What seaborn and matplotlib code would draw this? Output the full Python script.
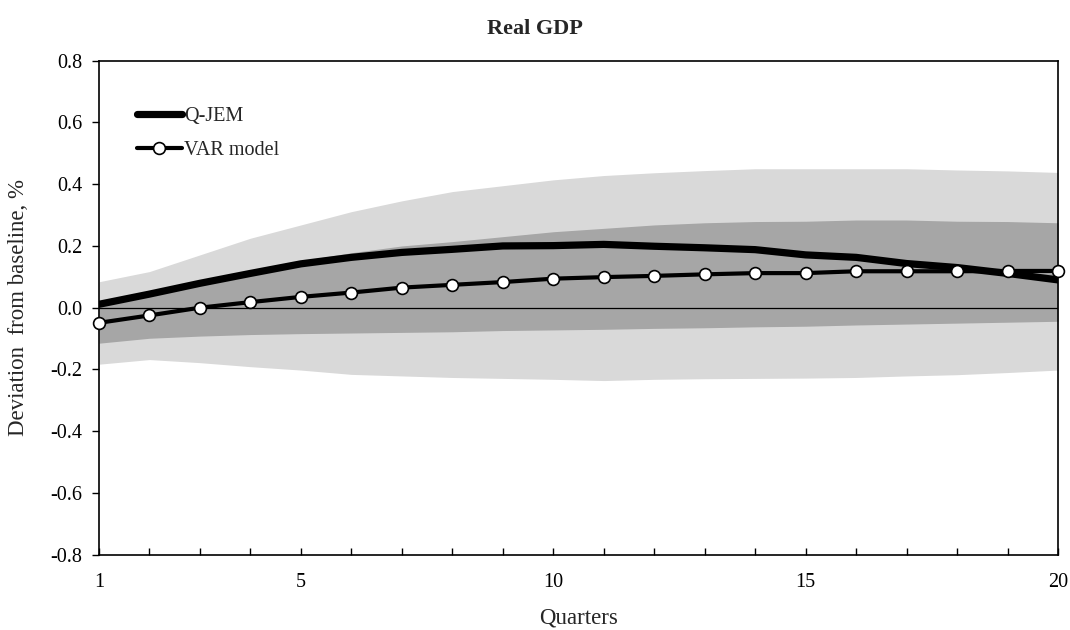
import numpy as np
import pandas as pd
import matplotlib
matplotlib.use("Agg")
import matplotlib.pyplot as plt
import seaborn as sns

quarters = list(range(1, 21))

qjem = [0.011, 0.044, 0.079, 0.111, 0.142, 0.163, 0.179, 0.189, 0.200, 0.201,
        0.205, 0.199, 0.194, 0.188, 0.171, 0.163, 0.143, 0.130, 0.111, 0.090]

var_model = [-0.049, -0.025, 0.000, 0.018, 0.035, 0.049, 0.065, 0.074, 0.083, 0.094,
             0.099, 0.103, 0.108, 0.112, 0.112, 0.118, 0.118, 0.118, 0.119, 0.119]

# confidence bands
inner_upper = [0.020, 0.052, 0.088, 0.122, 0.152, 0.178, 0.200, 0.214, 0.230, 0.246,
               0.257, 0.268, 0.275, 0.279, 0.280, 0.284, 0.284, 0.280, 0.279, 0.275]
inner_lower = [-0.115, -0.099, -0.092, -0.087, -0.084, -0.082, -0.080, -0.078, -0.074, -0.072,
               -0.070, -0.067, -0.065, -0.062, -0.060, -0.056, -0.053, -0.050, -0.047, -0.044]
outer_upper = [0.084, 0.117, 0.171, 0.225, 0.268, 0.311, 0.346, 0.376, 0.395, 0.414,
               0.428, 0.437, 0.444, 0.450, 0.450, 0.450, 0.450, 0.446, 0.443, 0.438]
outer_lower = [-0.183, -0.168, -0.178, -0.191, -0.202, -0.216, -0.221, -0.226, -0.229, -0.232,
               -0.236, -0.232, -0.230, -0.229, -0.228, -0.226, -0.221, -0.217, -0.210, -0.202]

x_labels = {1: "1", 5: "5", 10: "10", 15: "15", 20: "20"}
y_ticks = [-0.8, -0.6, -0.4, -0.2, 0.0, 0.2, 0.4, 0.6, 0.8]

df = pd.DataFrame({
    "Quarter": quarters,
    "Q-JEM": qjem,
    "VAR model": var_model,
})

sns.set_style("white")
plt.rcParams["font.family"] = ["Liberation Serif", "DejaVu Serif"]

fig = plt.figure(figsize=(10.7, 6.3), dpi=100)
ax = fig.add_axes([0.0925, 0.1195, 0.8963, 0.7842])

ax.fill_between(quarters, outer_lower, outer_upper, color="#d9d9d9", lw=0, zorder=1)
ax.fill_between(quarters, inner_lower, inner_upper, color="#a6a6a6", lw=0, zorder=2)
ax.axhline(0, color="black", lw=0.9, zorder=3)

sns.lineplot(data=df, x="Quarter", y="Q-JEM", ax=ax, color="black", lw=5.2,
             label="Q-JEM", zorder=4)
sns.lineplot(data=df, x="Quarter", y="VAR model", ax=ax, color="black", lw=3,
             marker="o", markersize=8.5, markerfacecolor="white",
             markeredgecolor="black", markeredgewidth=1.2,
             label="VAR model", zorder=5, clip_on=False)

ax.set_xlim(1, 20)
ax.set_ylim(-0.8, 0.8)
ax.set_xticks(quarters)
ax.set_xticklabels([x_labels.get(q, "") for q in quarters])
ax.set_yticks(y_ticks)
ax.set_yticklabels([f"{v:.1f}" for v in y_ticks])
ax.tick_params(axis="x", direction="in", length=5, width=1, labelsize=14.5, pad=13, colors="black")
ax.tick_params(axis="y", direction="out", length=5, width=1, labelsize=14.5, pad=7, colors="black")
ax.tick_params(left=True, bottom=True)

for side in ["left", "right", "top", "bottom"]:
    ax.spines[side].set_visible(True)
    ax.spines[side].set_color("black")
    ax.spines[side].set_linewidth(1.2)

ax.set_xlabel("Quarters", fontsize=16.5, labelpad=11)
ax.set_ylabel("Deviation  from baseline, %", fontsize=16.5, labelpad=15)
fig.suptitle("Real GDP", fontsize=16, fontweight="bold", y=0.97)

leg = ax.legend(loc="upper left", bbox_to_anchor=(0.031, 0.922), frameon=False,
                fontsize=14.5, handlelength=2.25, handletextpad=0.1, labelspacing=0.7,
                borderaxespad=0)

fig.savefig("out.png", dpi=100)
